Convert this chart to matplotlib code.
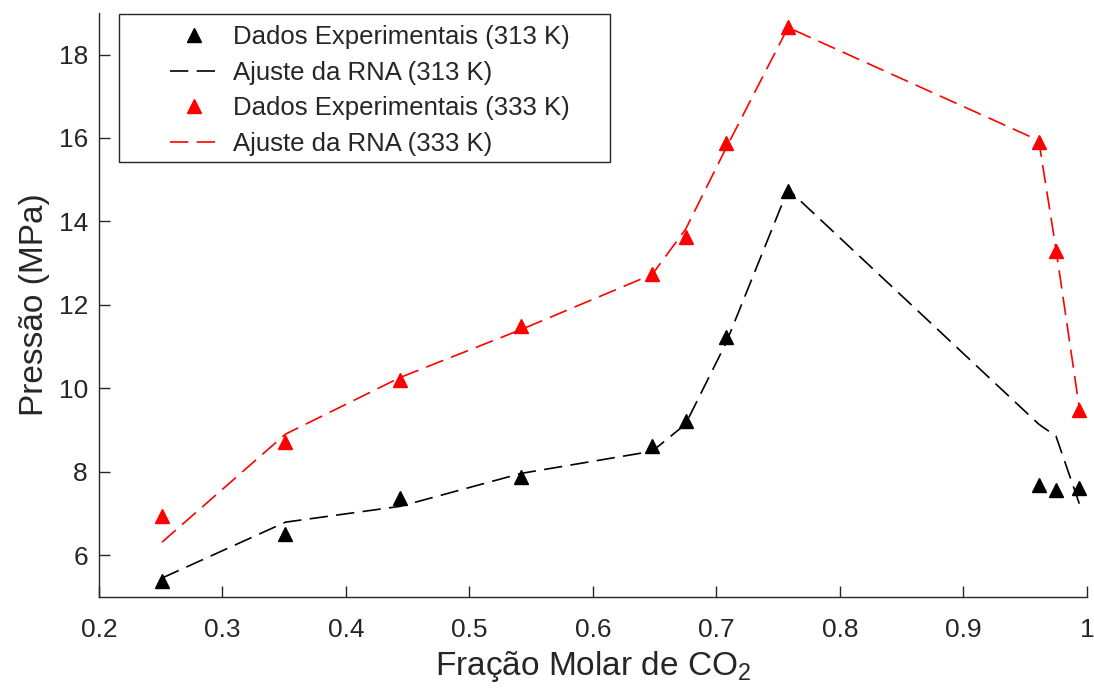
import numpy as np
import matplotlib
matplotlib.use("Agg")
import matplotlib.pyplot as plt
from matplotlib.patches import Rectangle

plt.rcParams['font.family'] = ['Liberation Sans', 'DejaVu Sans']
plt.rcParams['mathtext.fontset'] = 'custom'
plt.rcParams['mathtext.rm'] = 'Liberation Sans'
plt.rcParams['mathtext.it'] = 'Liberation Sans'

# fracao molar de CO2
x_co2 = [0.251, 0.351, 0.444, 0.542, 0.648, 0.675, 0.708, 0.758, 0.961, 0.975, 0.994]

# 313 K
p_exp_313 = [5.38, 6.50, 7.37, 7.87, 8.61, 9.21, 11.22, 14.72, 7.67, 7.55, 7.62]
p_rna_313 = [5.45, 6.79, 7.17, 7.96, 8.49, 9.14, 11.10, 14.77, 9.14, 8.85, 7.22]

# 333 K
p_exp_333 = [6.93, 8.71, 10.19, 11.49, 12.75, 13.62, 15.89, 18.65, 15.91, 13.30, 9.48]
p_rna_333 = [6.31, 8.90, 10.26, 11.41, 12.73, 13.81, 15.77, 18.65, 15.94, 13.33, 9.50]

x_ticks = [0.2, 0.3, 0.4, 0.5, 0.6, 0.7, 0.8, 0.9, 1.0]
x_ticklabels = ['0.2', '0.3', '0.4', '0.5', '0.6', '0.7', '0.8', '0.9', '1']
y_ticks = [6, 8, 10, 12, 14, 16, 18]

axcol = '#262626'
dash = (11, 5)

fig = plt.figure(figsize=(10.94, 6.94), dpi=100)
ax = fig.add_axes([0.0905, 0.14, 0.903, 0.8415])

ax.plot(x_co2, p_exp_313, linestyle='none', marker='^', ms=10.5, color='k',
        label='Dados Experimentais (313 K)')
ax.plot(x_co2, p_rna_313, color='k', lw=1.2, dashes=dash,
        label='Ajuste da RNA (313 K)')
ax.plot(x_co2, p_exp_333, linestyle='none', marker='^', ms=10.5, color='r',
        label='Dados Experimentais (333 K)')
ax.plot(x_co2, p_rna_333, color='r', lw=1.2, dashes=dash,
        label='Ajuste da RNA (333 K)')

ax.set_xlim(0.2, 1.0)
ax.set_ylim(5.0, 19.0)
ax.set_xticks(x_ticks)
ax.set_xticklabels(x_ticklabels)
ax.set_yticks(y_ticks)

for s in ['top', 'right']:
    ax.spines[s].set_visible(False)
for s in ['left', 'bottom']:
    ax.spines[s].set_color(axcol)
    ax.spines[s].set_linewidth(1.0)

ax.tick_params(direction='in', length=8, width=1.0, colors=axcol,
               labelsize=19)
ax.tick_params(axis='x', pad=15)
ax.tick_params(axis='y', pad=8)

ax.set_xlabel('Fração Molar de CO$_2$', fontsize=24, color=axcol, labelpad=5)
ax.set_ylabel('Pressão (MPa)', fontsize=24, color=axcol, labelpad=6)

# legend box (MATLAB style, wide padding)
ax.add_patch(Rectangle((0.0202, 0.745), 0.497, 0.253, transform=ax.transAxes,
                       facecolor='white', edgecolor=axcol, lw=1.0, zorder=4))
leg = ax.legend(loc='upper left', bbox_to_anchor=(0.072, 0.979), fontsize=18.5,
                frameon=False, handlelength=1.85, handletextpad=0.6,
                labelspacing=0.45, borderpad=0.0, borderaxespad=0.0)
leg.set_zorder(5)
for t in leg.get_texts():
    t.set_color(axcol)

plt.savefig('out.png', dpi=100)
